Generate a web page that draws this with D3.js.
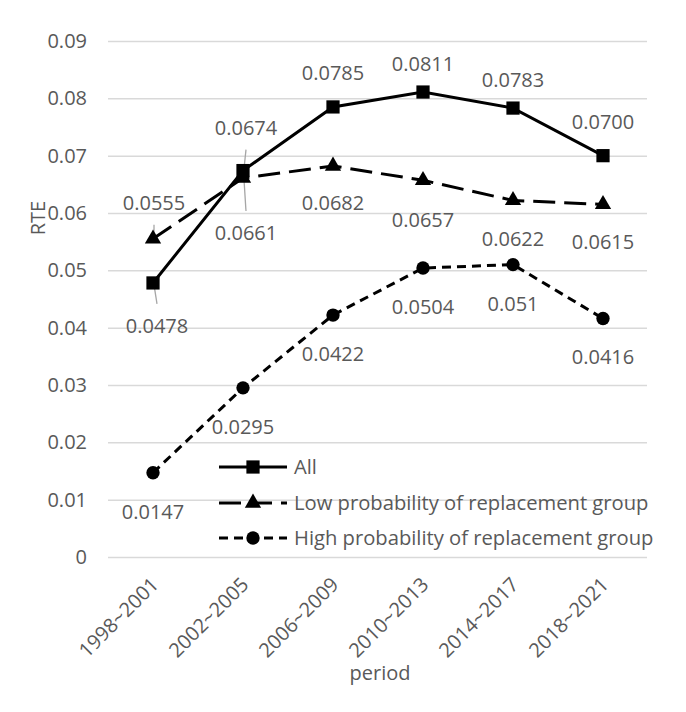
<!DOCTYPE html>
<html>
<head>
  <meta charset="utf-8">
  <script src="https://d3js.org/d3.v7.min.js"></script>
  <style>
    body { margin: 0; background: #fff; }
    text { font-family: 'Open Sans', sans-serif; fill: #595959; }
    .grid line { stroke: #d9d9d9; stroke-width: 1.5; }
    .series { fill: none; stroke: #000; stroke-width: 3; }
    .leader { stroke: #a6a6a6; stroke-width: 1.3; }
  </style>
</head>
<body>
  <svg id="chart" width="686" height="712"></svg>
  <script>
    // data
    var periods = ['1998~2001', '2002~2005', '2006~2009', '2010~2013', '2014~2017', '2018~2021'];
    var allValues = [0.0478, 0.0674, 0.0785, 0.0811, 0.0783, 0.0700];
    var lowValues = [0.0555, 0.0661, 0.0682, 0.0657, 0.0622, 0.0615];
    var highValues = [0.0147, 0.0295, 0.0422, 0.0504, 0.051, 0.0416];
    var allLabels = ['0.0478', '0.0674', '0.0785', '0.0811', '0.0783', '0.0700'];
    var lowLabels = ['0.0555', '0.0661', '0.0682', '0.0657', '0.0622', '0.0615'];
    var highLabels = ['0.0147', '0.0295', '0.0422', '0.0504', '0.051', '0.0416'];
    var yTicks = [0, 0.01, 0.02, 0.03, 0.04, 0.05, 0.06, 0.07, 0.08, 0.09];
    var yTickLabels = ['0', '0.01', '0.02', '0.03', '0.04', '0.05', '0.06', '0.07', '0.08', '0.09'];
    var seriesNames = ['All', 'Low probability of replacement group', 'High probability of replacement group'];

    // label placement (pixels from the point to the label centre), like excel put them
    var allLabelDy = [43, -43, -34, -28, -28, -34];
    var lowLabelDy = [-36, 55, 37, 40, 39, 38];
    var highLabelDy = [39, 39, 39, 39, 39, 39];
    var allLabelDx = [4, 3, 0, 0, 0, 0];
    var lowLabelDx = [1, 3, 0, 0, 0, 0];

    var fontSize = '20px';
    var chart = d3.select('#chart');
    var plot = { left: 108, right: 648, top: 41, bottom: 557 };

    var x = d3.scaleBand()
      .domain(periods)
      .range([plot.left, plot.right]);
    var cx = (p) => x(p) + x.bandwidth() / 2;

    var y = d3.scaleLinear()
      .domain([0, 0.09])
      .range([plot.bottom, plot.top]);

    // gridlines
    chart.append('g')
      .attr('class', 'grid')
      .attr('transform', 'translate(' + plot.left + ', 0)')
      .call(d3.axisLeft(y).tickValues(yTicks).tickSize(-(plot.right - plot.left - 1)).tickFormat(''))
      .call((g) => g.select('.domain').remove());

    // y tick labels
    chart.append('g')
      .attr('transform', 'translate(' + plot.left + ', 0)')
      .call(d3.axisLeft(y).tickValues(yTicks).tickSize(0).tickPadding(21)
        .tickFormat((d, i) => yTickLabels[i]))
      .call((g) => g.select('.domain').remove())
      .selectAll('text')
      .style('font-size', fontSize)
      .attr('fill', '#595959');

    // x tick labels, rotated
    chart.append('g')
      .attr('transform', 'translate(0, ' + plot.bottom + ')')
      .call(d3.axisBottom(x).tickSize(0).tickPadding(0))
      .call((g) => g.select('.domain').remove())
      .selectAll('text')
      .style('font-size', fontSize)
      .attr('fill', '#595959')
      .style('text-anchor', 'end')
      .attr('x', 0)
      .attr('y', 0)
      .attr('dy', '0.35em')
      .attr('transform', 'translate(2, 24) rotate(-45)');

    // axis titles
    chart.append('text')
      .attr('transform', 'translate(38, 218) rotate(-90)')
      .attr('text-anchor', 'middle')
      .attr('dy', '0.35em')
      .style('font-size', fontSize)
      .text('RTE');

    chart.append('text')
      .attr('x', (plot.left + plot.right) / 2 + 2)
      .attr('y', 673)
      .attr('text-anchor', 'middle')
      .attr('dy', '0.35em')
      .style('font-size', fontSize)
      .text('period');

    var series = [
      { name: seriesNames[0], values: allValues, labels: allLabels, dy: allLabelDy, dx: allLabelDx, dash: null, marker: d3.symbolSquare, size: 175 },
      { name: seriesNames[1], values: lowValues, labels: lowLabels, dy: lowLabelDy, dx: lowLabelDx, dash: '22,9', marker: d3.symbolTriangle, size: 115 },
      { name: seriesNames[2], values: highValues, labels: highLabels, dy: highLabelDy, dx: [0, 0, 0, 0, 0, 0], dash: '9,6', marker: d3.symbolCircle, size: 140 }
    ];

    var line = d3.line()
      .x((d, i) => cx(periods[i]))
      .y((d) => y(d));

    // leader lines for the labels that excel pulled away from the point
    var leaders = [
      { s: 0, i: 0 }, { s: 0, i: 1 }, { s: 1, i: 0 }, { s: 1, i: 1 }
    ];
    leaders.forEach((l) => {
      var s = series[l.s];
      var px = cx(periods[l.i]);
      var py = y(s.values[l.i]);
      var ly = py + s.dy[l.i];
      var dir = s.dy[l.i] > 0 ? 1 : -1;
      chart.append('line')
        .attr('class', 'leader')
        .attr('x1', px + 1)
        .attr('y1', py + dir * 2)
        .attr('x2', px + s.dx[l.i])
        .attr('y2', ly - dir * 22);
    });

    series.forEach((s) => {
      chart.append('path')
        .datum(s.values)
        .attr('class', 'series')
        .attr('stroke-dasharray', s.dash)
        .attr('d', line);

      chart.append('g')
        .selectAll('path')
        .data(s.values)
        .join('path')
        .attr('transform', (d, i) => 'translate(' + cx(periods[i]) + ', ' + y(d) + ')')
        .attr('d', d3.symbol().type(s.marker).size(s.size))
        .attr('fill', '#000');

      chart.append('g')
        .selectAll('text')
        .data(s.values)
        .join('text')
        .attr('x', (d, i) => cx(periods[i]) + s.dx[i])
        .attr('y', (d, i) => y(d) + s.dy[i])
        .attr('dy', '0.35em')
        .attr('text-anchor', 'middle')
        .style('font-size', fontSize)
        .text((d, i) => s.labels[i]);
    });

    // legend
    var legend = chart.append('g')
      .selectAll('g')
      .data(series)
      .join('g')
      .attr('transform', (d, i) => 'translate(219, ' + [467, 503, 538][i] + ')');

    legend.append('line')
      .attr('class', 'series')
      .attr('x1', 0)
      .attr('x2', 68)
      .attr('stroke-dasharray', (d) => d.dash);

    legend.append('path')
      .attr('transform', 'translate(34, 0)')
      .attr('d', (d) => d3.symbol().type(d.marker).size(d.size)())
      .attr('fill', '#000');

    legend.append('text')
      .attr('x', 75)
      .attr('dy', '0.35em')
      .style('font-size', '20.2px')
      .text((d) => d.name);
  </script>
</body>
</html>
